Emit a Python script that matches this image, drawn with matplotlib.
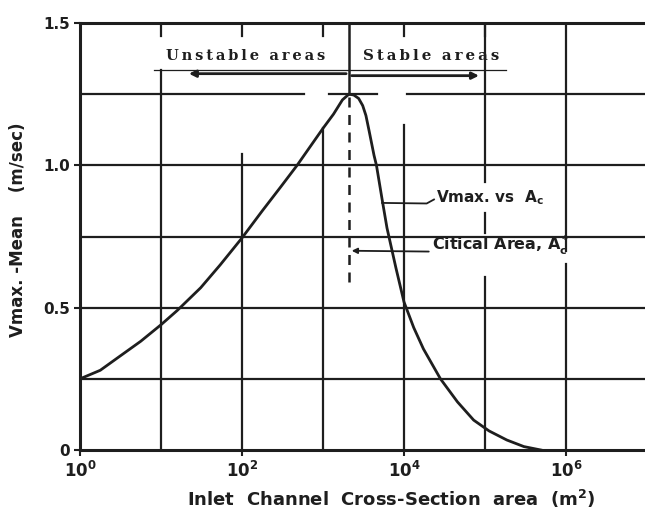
import numpy as np
import matplotlib
matplotlib.use("Agg")
import matplotlib.pyplot as plt

# ---- data (x given as log10 of area in m^2) ----
curve_log_area = [0.0, 0.25, 0.48, 0.75, 1.0, 1.2, 1.49, 1.73, 2.0, 2.25, 2.48, 2.68,
                  3.0, 3.13, 3.24, 3.32, 3.38, 3.44, 3.49, 3.53, 3.57, 3.63, 3.66,
                  3.73, 3.79, 3.90, 4.0, 4.12, 4.24, 4.45, 4.66, 4.86, 5.05, 5.27,
                  5.48, 5.69]
curve_v = [0.25, 0.28, 0.327, 0.382, 0.44, 0.49, 0.57, 0.65, 0.745, 0.84, 0.925, 1.0,
           1.13, 1.18, 1.23, 1.25, 1.247, 1.235, 1.21, 1.175, 1.12, 1.035, 1.0,
           0.88, 0.78, 0.64, 0.52, 0.43, 0.355, 0.25, 0.169, 0.105, 0.067, 0.035,
           0.012, 0.0]
critical_log_area = 3.32
y_ticks = [0.0, 0.5, 1.0, 1.5]
y_tick_labels = ["0", "0.5", "1.0", "1.5"]
x_tick_exps = [0, 2, 4, 6]

ink = "#1e1e1e"
fig = plt.figure(figsize=(6.45, 5.17), dpi=100)
fig.patch.set_facecolor("white")
ax = fig.add_axes([80/645, 1-450/517, 1-80/645, (450-23)/517])
ax.set_xscale("log")
top_l = (645-80)/81
xmax = 10**top_l
ax.set_xlim(1, xmax)
ax.set_ylim(0, 1.5)

A = 10**np.array(curve_log_area)
ax.plot(A, curve_v, color=ink, lw=2.0, solid_joinstyle="round", zorder=5)

glw = 1.6
def hseg(v, l0, l1):
    ax.plot([10**l0, 10**l1], [v, v], color=ink, lw=glw, zorder=2)
def vseg(l, v0, v1):
    ax.plot([10**l, 10**l], [v0, v1], color=ink, lw=glw, zorder=2)

for v in [0.25, 0.5, 0.75, 1.0]:
    hseg(v, 0, top_l)
hseg(1.25, 0, 2.76)
hseg(1.25, 3.07, 3.67)
hseg(1.25, 4.04, top_l)

# top ticks and partial vertical grid lines
for l in [1, 2, 3, 4, 5]:
    vseg(l, 1.5, 1.455)
vseg(1, 0, 1.335)
vseg(2, 0, 1.04)
vseg(3, 0, 1.13)
vseg(4, 0, 1.14)
vseg(5, 0.94, 1.5)
vseg(5, 0.762, 0.832)
vseg(5, 0, 0.607)
vseg(6, 0.70, 1.5)
vseg(6, 0, 0.655)

# critical area divider
Ac = 10**critical_log_area
ax.plot([Ac, Ac], [1.25, 1.5], color=ink, lw=1.8, zorder=3)
ax.plot([Ac, Ac], [0.59, 1.25], color=ink, lw=1.8, ls=(0, (4, 3)), zorder=3)

# stable/unstable arrows
ax.plot([10**0.914, 10**5.26], [1.336, 1.336], color=ink, lw=0.9, zorder=3)
ax.annotate("", xy=(10**1.31, 1.322), xytext=(Ac, 1.322),
            arrowprops=dict(arrowstyle="-|>", color=ink, lw=2.0, mutation_scale=10))
ax.annotate("", xy=(10**4.96, 1.315), xytext=(Ac, 1.315),
            arrowprops=dict(arrowstyle="-|>", color=ink, lw=2.0, mutation_scale=10))
ts = "\u2009"
ax.text(10**2.05, 1.385, ts.join("Unstable") + "  " + ts.join("areas"), ha="center",
        va="center", family="DejaVu Serif", weight="bold", fontsize=10.5, color=ink)
ax.text(10**4.33, 1.385, ts.join("Stable") + "  " + ts.join("areas"), ha="center",
        va="center", family="DejaVu Serif", weight="bold", fontsize=10.8, color=ink)

# annotations
ax.plot([10**3.73, 10**4.28, 10**4.37], [0.868, 0.866, 0.88], color=ink, lw=1.3, zorder=4)
ax.text(10**4.395, 0.885, r"Vmax. vs  $\mathbf{A_c}$", ha="left", va="center",
        fontsize=11, weight="bold", color=ink)
ax.annotate("", xy=(Ac, 0.70), xytext=(10**4.34, 0.697),
            arrowprops=dict(arrowstyle="-|>", color=ink, lw=1.3, mutation_scale=8))
ax.text(10**4.35, 0.72, r"Citical Area, $\mathbf{A_c^*}$", ha="left", va="center",
        fontsize=11.5, weight="bold", color=ink)

# axes styling
for s in ["left", "top", "bottom"]:
    ax.spines[s].set_linewidth(2.2)
    ax.spines[s].set_color(ink)
ax.spines["right"].set_visible(False)

ax.set_yticks(y_ticks)
ax.set_yticklabels(y_tick_labels, fontsize=11, weight="bold", color=ink)
ax.set_xticks([10**e for e in x_tick_exps])
ax.set_xticklabels([r"$\mathbf{10^{%d}}$" % e for e in x_tick_exps], fontsize=12, color=ink)
ax.minorticks_off()
ax.tick_params(axis="y", length=4, width=1.5, pad=3, color=ink)
ax.tick_params(axis="x", length=4, width=1.5, pad=4, color=ink)

ax.set_xlabel("Inlet  Channel  Cross-Section  area  (m$^\\mathbf{2}$)", fontsize=13,
              weight="bold", color=ink)
ax.xaxis.set_label_coords((391-80)/565, -0.088)
ax.set_ylabel("Vmax. -Mean    (m/sec)", fontsize=12, weight="bold", color=ink)
ax.yaxis.set_label_coords(-0.094, 0.515)

fig.savefig("out.png", dpi=100)
